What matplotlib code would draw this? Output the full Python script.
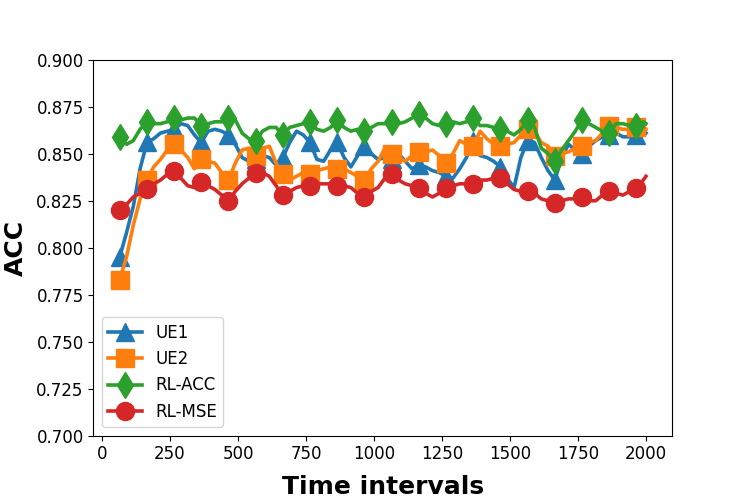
import matplotlib
matplotlib.use('Agg')
import matplotlib.pyplot as plt

# Eixo x: um ponto a cada 25 intervalos, de 65 ate 2000
tempo = list(range(65, 2000, 25)) + [2000]

# UE1
ue1 = [0.795, 0.808, 0.822, 0.842,
       0.856, 0.858, 0.861, 0.862,
       0.863, 0.866, 0.865, 0.860,
       0.856, 0.862, 0.863, 0.862,
       0.860, 0.855, 0.848, 0.846,
       0.847, 0.849, 0.848, 0.844,
       0.848, 0.856, 0.862, 0.860,
       0.856, 0.847, 0.846, 0.852,
       0.856, 0.848, 0.843, 0.849,
       0.854, 0.850, 0.847, 0.848,
       0.847, 0.850, 0.846, 0.842,
       0.844, 0.843, 0.841, 0.840,
       0.838, 0.837, 0.842, 0.848,
       0.857, 0.849, 0.848, 0.846,
       0.843, 0.837, 0.832, 0.848,
       0.857, 0.856, 0.848, 0.841,
       0.836, 0.848, 0.855, 0.852,
       0.850, 0.854, 0.857, 0.859,
       0.860, 0.861, 0.859, 0.859,
       0.860, 0.862, 0.861]

# UE2
ue2 = [0.783, 0.795, 0.812, 0.826,
       0.836, 0.843, 0.847, 0.852,
       0.855, 0.852, 0.848, 0.842,
       0.847, 0.846, 0.845, 0.840,
       0.836, 0.845, 0.852, 0.853,
       0.849, 0.853, 0.854, 0.845,
       0.839, 0.836, 0.838, 0.840,
       0.839, 0.841, 0.842, 0.843,
       0.842, 0.842, 0.840, 0.838,
       0.836, 0.842, 0.846, 0.853,
       0.850, 0.848, 0.846, 0.849,
       0.851, 0.851, 0.852, 0.849,
       0.845, 0.850, 0.857, 0.855,
       0.854, 0.862, 0.858, 0.855,
       0.854, 0.855, 0.856, 0.860,
       0.863, 0.862, 0.856, 0.854,
       0.849, 0.850, 0.851, 0.853,
       0.854, 0.856, 0.857, 0.861,
       0.865, 0.864, 0.863, 0.863,
       0.864, 0.863, 0.863]

# RL-ACC
rl_acc = [0.859, 0.855, 0.857, 0.863,
          0.867, 0.866, 0.866, 0.867,
          0.869, 0.868, 0.869, 0.869,
          0.865, 0.866, 0.867, 0.867,
          0.869, 0.868, 0.861, 0.858,
          0.857, 0.862, 0.864, 0.864,
          0.860, 0.864, 0.865, 0.866,
          0.867, 0.863, 0.862, 0.864,
          0.868, 0.864, 0.862, 0.863,
          0.862, 0.864, 0.866, 0.866,
          0.867, 0.866, 0.867, 0.869,
          0.871, 0.869, 0.866, 0.865,
          0.866, 0.867, 0.866, 0.867,
          0.869, 0.865, 0.865, 0.864,
          0.863, 0.862, 0.860, 0.863,
          0.868, 0.864, 0.853, 0.850,
          0.846, 0.852, 0.857, 0.862,
          0.868, 0.866, 0.864, 0.862,
          0.861, 0.866, 0.866, 0.865,
          0.865, 0.867, 0.866]

# RL-MSE
rl_mse = [0.820, 0.823, 0.827, 0.829,
          0.831, 0.834, 0.836, 0.839,
          0.841, 0.837, 0.833, 0.832,
          0.835, 0.833, 0.831, 0.828,
          0.825, 0.830, 0.834, 0.837,
          0.840, 0.840, 0.838, 0.833,
          0.828, 0.830, 0.832, 0.833,
          0.833, 0.834, 0.834, 0.834,
          0.833, 0.833, 0.832, 0.829,
          0.827, 0.830, 0.832, 0.837,
          0.839, 0.836, 0.834, 0.833,
          0.832, 0.829, 0.827, 0.829,
          0.832, 0.833, 0.834, 0.834,
          0.834, 0.836, 0.836, 0.837,
          0.837, 0.834, 0.831, 0.830,
          0.830, 0.829, 0.826, 0.825,
          0.824, 0.825, 0.826, 0.826,
          0.827, 0.825, 0.825, 0.828,
          0.830, 0.829, 0.828, 0.830,
          0.832, 0.836, 0.838]

series = [('UE1', ue1, '^'), ('UE2', ue2, 's'),
          ('RL-ACC', rl_acc, 'd'), ('RL-MSE', rl_mse, 'o')]

fig, ax = plt.subplots(figsize=(7.47, 4.98), dpi=100)
fig.subplots_adjust(left=0.125, right=0.9, top=0.88, bottom=0.125)

for nome, valores, marcador in series:
    ax.plot(tempo, valores, marker=marcador, markevery=4, markersize=13,
            linewidth=2.6, label=nome)

ax.set_ylim(0.7, 0.9)
ax.set_xticks(range(0, 2001, 250))
ax.tick_params(labelsize=12)
ax.set_xlabel('Time intervals', fontsize=18, fontweight='bold', labelpad=8)
ax.set_ylabel('ACC', fontsize=18, fontweight='bold', labelpad=6)
ax.legend(loc='lower left', fontsize=12)

plt.savefig('out.png', dpi=100)
